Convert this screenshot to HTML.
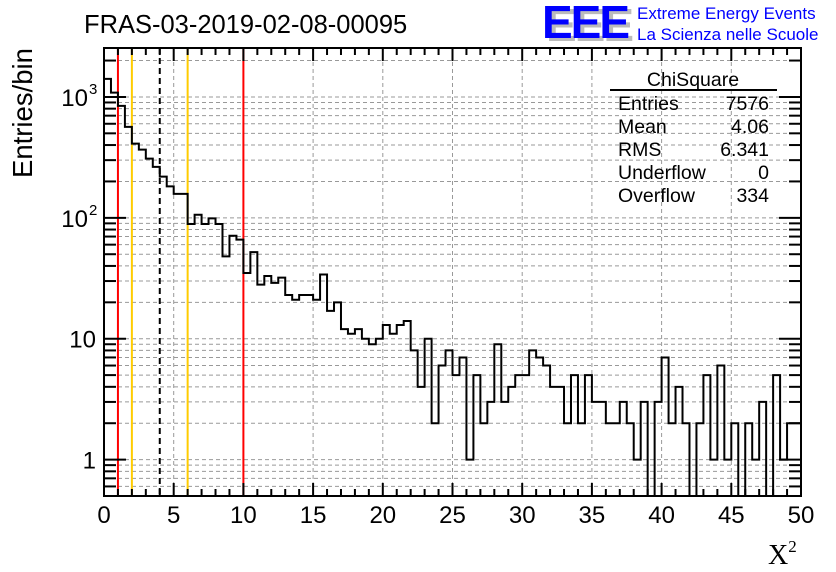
<!DOCTYPE html>
<html><head><meta charset="utf-8"><style>
html,body{margin:0;padding:0;background:#fff;}
svg{display:block;font-family:"Liberation Sans",sans-serif;}
</style></head><body>
<svg id="chart" width="836" height="572" viewBox="0 0 836 572" xmlns="http://www.w3.org/2000/svg">
<rect x="0" y="0" width="836" height="572" fill="#fff"/>
<g id="grid"></g>
<g id="marks"></g>
<g id="hist"></g>
<g id="axes"></g>
<text x="84" y="33" font-size="25.5">FRAS-03-2019-02-08-00095</text>
<text transform="translate(32,178) rotate(-90)" font-size="27.5">Entries/bin</text>
<text x="768" y="564" font-size="28" font-family="Liberation Serif, serif">X<tspan font-size="17" dy="-12">2</tspan></text>
<g>
<text x="546" y="41" font-size="46" font-weight="bold" fill="#bbb" letter-spacing="-2">EEE</text>
<text x="542" y="38" font-size="46" font-weight="bold" fill="#0000ff" letter-spacing="-2">EEE</text>
<text x="637" y="19" font-size="17" fill="#0000ff">Extreme Energy Events</text>
<text x="637" y="40" font-size="17" fill="#0000ff">La Scienza nelle Scuole</text>
</g>
<g font-size="19.5">
<text x="693" y="86" text-anchor="middle">ChiSquare</text>
<line x1="610" y1="90" x2="777" y2="90" stroke="#000" stroke-width="2"/>
<text x="618" y="110">Entries</text><text x="769" y="110" text-anchor="end">7576</text>
<text x="618" y="133">Mean</text><text x="769" y="133" text-anchor="end">4.06</text>
<text x="618" y="156">RMS</text><text x="769" y="156" text-anchor="end">6.341</text>
<text x="618" y="179">Underflow</text><text x="769" y="179" text-anchor="end">0</text>
<text x="618" y="202">Overflow</text><text x="769" y="202" text-anchor="end">334</text>
</g>
</svg>
<script>
const counts = [1410,1086,843,565,411,367,309,264,219,182,
158,158,89,106,89,99,89,48,71,66,
35,52,28,33,29,32,23,21,23,23,
21,34,17,20,12,11,12,10,9,10,
13,11,13,14,8,4,10,2,6,8,
5,7,1,5,2,3,9,3,4,5,
5,8,7,6,4,4,2,5,2,5,
3,3,2,2,3,2,1,3,0,3,
7,2,4,2,0,2,5,1,6,1,
2,0,2,1,3,0,5,1,2,2];
const xTicks = [0,5,10,15,20,25,30,35,40,45,50];
const yTickLabels = [{v:1,t:"1"},{v:10,t:"10"},{v:100,t:"10",e:"2"},{v:1000,t:"10",e:"3"}];
const redLines = [1,10];
const orangeLines = [2,6];
const dashedLines = [4];
const binWidth = 0.5;

const X0=104,X1=801,Y0=48,Y1=496;
const xMin=0,xMax=50,yMin=Math.log10(0.5),yMax=Math.log10(2540);
const NS="http://www.w3.org/2000/svg";
function sx(v){return X0+(v-xMin)/(xMax-xMin)*(X1-X0);}
function sy(v){if(v<=0)return Y1;const l=Math.log10(v);return Y1-(l-yMin)/(yMax-yMin)*(Y1-Y0);}
function mk(tag,attrs,parent){const e=document.createElementNS(NS,tag);for(const k in attrs)e.setAttribute(k,attrs[k]);parent.appendChild(e);return e;}
const grid=document.getElementById('grid'),marks=document.getElementById('marks'),hist=document.getElementById('hist'),axes=document.getElementById('axes');

xTicks.forEach(v=>{if(v>xMin&&v<xMax){const l=mk('line',{x1:sx(v),x2:sx(v),y1:Y0,y2:Y1,stroke:'#999','stroke-dasharray':'4,3','stroke-width':1},grid);

}});
for(let d=0.1;d<=1000;d*=10){for(let m=1;m<10;m++){const v=Math.round(d*m*100)/100;const y=sy(v);if(y<Y0||y>Y1)continue;
const l=mk('line',{x1:X0,x2:X1,y1:y,y2:y,stroke:'#999','stroke-dasharray':'4,3','stroke-width':1},grid);

}}

function vline(v,color,dash,name){const l=mk('line',{x1:sx(v),x2:sx(v),y1:Y0,y2:Y1,stroke:color,'stroke-width':2},marks);if(dash)l.setAttribute('stroke-dasharray',dash);

}
redLines.forEach(v=>vline(v,'#ff0000',null,'red-threshold-line'));
orangeLines.forEach(v=>vline(v,'#ffcc00',null,'orange-threshold-line'));
dashedLines.forEach(v=>vline(v,'#000',"6,4",'mean-dashed-line'));

let d='';
counts.forEach((c,i)=>{const xa=sx(i*binWidth),xb=sx((i+1)*binWidth),y=sy(c);
d+=(i===0?'M'+xa+','+y:'L'+xa+','+y)+'L'+xb+','+y;});
const p=mk('path',{d:d,fill:'none',stroke:'#000','stroke-width':2},hist);



const fr=mk('rect',{x:X0,y:Y0,width:X1-X0,height:Y1-Y0,fill:'none',stroke:'#000','stroke-width':2},axes);


for(let v=0;v<=50;v+=1){const maj=v%5===0;const len=maj?13:7;const x=sx(v);
mk('line',{x1:x,x2:x,y1:Y1,y2:Y1-len,stroke:'#000','stroke-width':2},axes);
mk('line',{x1:x,x2:x,y1:Y0,y2:Y0+len,stroke:'#000','stroke-width':2},axes);}
xTicks.forEach(v=>{const t=mk('text',{x:sx(v),y:523,'font-size':24,'text-anchor':'middle'},axes);t.textContent=v;

});
for(let dd=0.1;dd<=1000;dd*=10){for(let m=1;m<10;m++){const v=dd*m;const y=sy(v);if(y<Y0-0.5||y>Y1+0.5)continue;const len=m===1?22:12;
mk('line',{x1:X0,x2:X0+len,y1:y,y2:y,stroke:'#000','stroke-width':2},axes);
mk('line',{x1:X1,x2:X1-len,y1:y,y2:y,stroke:'#000','stroke-width':2},axes);}}
yTickLabels.forEach(o=>{const t=mk('text',{x:o.e?88:96,y:sy(o.v)+9,'font-size':24,'text-anchor':'end'},axes);t.textContent=o.t;


if(o.e){const s=mk('text',{x:89,y:sy(o.v)-3,'font-size':15,'text-anchor':'start'},axes);s.textContent=o.e;

}});
</script>
</body></html>
